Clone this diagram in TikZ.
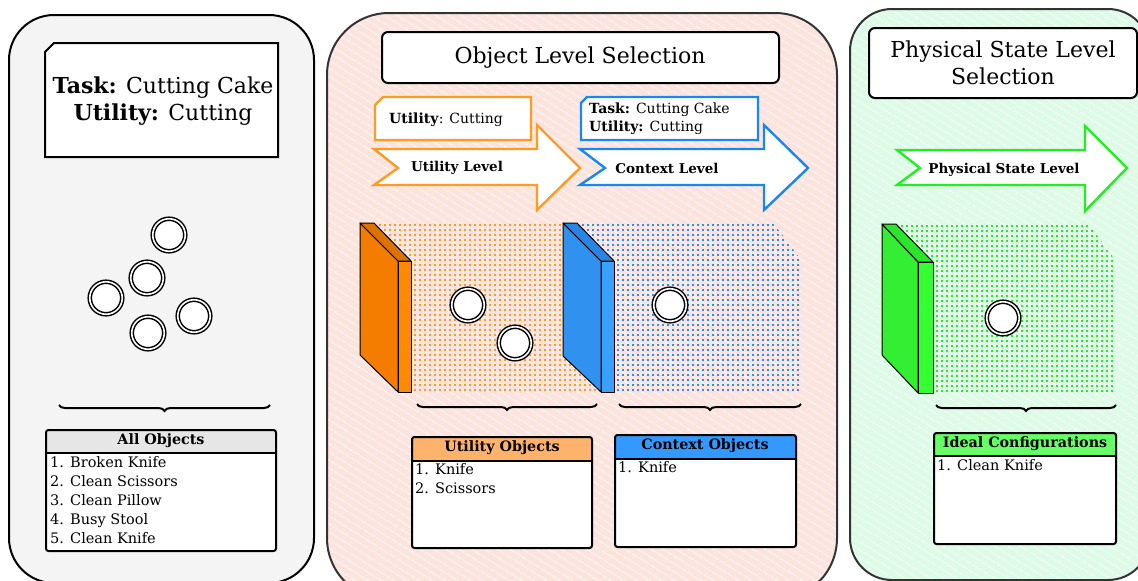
\documentclass[tikz,border=0pt]{standalone}
\usepackage{fontspec}
\setmainfont{DejaVu Serif}
\usetikzlibrary{patterns.meta,decorations.pathreplacing}

\definecolor{panelgray}{HTML}{F4F4F4}
\definecolor{panelpink}{HTML}{FCE4DE}
\definecolor{panelgreen}{HTML}{DDFBE6}
\definecolor{panelline}{HTML}{333333}
\definecolor{utilorange}{HTML}{FF9A22}
\definecolor{ctxblue}{HTML}{1A86F2}
\definecolor{stategreen}{HTML}{22EE22}
\definecolor{slabOtop}{HTML}{DE7200}
\definecolor{slabOside}{HTML}{F47D00}
\definecolor{slabOfront}{HTML}{FF8A00}
\definecolor{slabBtop}{HTML}{2A84E4}
\definecolor{slabBside}{HTML}{3092EE}
\definecolor{slabBfront}{HTML}{3A9FFF}
\definecolor{slabGtop}{HTML}{2CE42C}
\definecolor{slabGside}{HTML}{33EE33}
\definecolor{slabGfront}{HTML}{33FF33}
\definecolor{dotorange}{HTML}{FF9A2A}
\definecolor{dotblue}{HTML}{2A8CFF}
\definecolor{dotgreen}{HTML}{22EE22}
\definecolor{headgray}{HTML}{E6E6E6}
\definecolor{headorange}{HTML}{FFB26B}
\definecolor{headblue}{HTML}{3399FF}
\definecolor{headgreen}{HTML}{66FF66}

\newcommand\fs[2]{\fontsize{#1}{#2}\selectfont}
% grid of small square dots: colour, x-from, x-to, y-from, y-to
\newcommand\dotgrid[5]{%
  \foreach \dx in {#2,\the\numexpr#2+5\relax,...,#3}{%
    \foreach \dy in {#4,\the\numexpr#4+5\relax,...,#5}{%
      \fill[#1] (\dx-1.3,\dy-1.3) rectangle ++(2.6,2.6);}}}

\tikzset{
  panelborder/.style={draw=panelline, line width=2pt},
  hatch/.style={pattern={Lines[angle=-32,distance=6.5pt,line width=1.4pt]}, pattern color=white, fill opacity=0.65},
  titlebox/.style={draw=black, line width=2pt, fill=white, rounded corners=6pt},
  notebox/.style={line width=2.4pt, fill=white, line join=miter},
  levelarrow/.style={line width=2.4pt, fill=white, line join=miter},
  objcircle/.style={circle, draw=black, line width=1.5pt, double=white, double distance=1.6pt, fill=white, minimum size=32.5pt, inner sep=0pt},
  slabface/.style={draw=black, line width=1pt, line join=round},
  tableframe/.style={draw=black, line width=2pt, rounded corners=2.5pt},
  headtext/.style={font=\fs{14.3}{17}\bfseries},
  itemtext/.style={font=\fs{14.5}{19}, anchor=north west, align=left, inner sep=0pt},
  groupbrace/.style={decorate, decoration={brace, amplitude=6pt, mirror}, line width=2pt},
  arrowtext/.style={font=\fs{13.5}{16}\bfseries},
  notetext/.style={font=\fs{14}{18}, anchor=west, align=left, inner sep=0pt},
}

\begin{document}
\begin{tikzpicture}[x=1pt,y=-1pt]
\useasboundingbox (0,0) rectangle (1138,581);
\clip (0,0) rectangle (1138,581);
\fill[white] (0,0) rectangle (1138,581);

% ---------- left panel: the task and every object ----------
\filldraw[fill=panelgray, draw=black, line width=2pt, rounded corners=45pt]
  (9,15) rectangle (314,583);

\draw[fill=white, line width=2pt, line join=miter]
  (45,52) -- (54,43) -- (278,43) -- (278,157) -- (45,157) -- cycle;
\node[font=\fs{22}{27}, align=center] (task) at (163,101)
  {\textbf{Task:} Cutting Cake\\\textbf{Utility:} Cutting};

\node[objcircle] (o1) at (169,235) {};
\node[objcircle] (o2) at (147,278) {};
\node[objcircle] (o3) at (106,298) {};
\node[objcircle] (o4) at (194,316) {};
\node[objcircle] (o5) at (148,333) {};

\coordinate (allL) at (59,405);
\coordinate (allR) at (270,405);
\draw[groupbrace] (allL) -- (allR);

\fill[headgray, rounded corners=2.5pt] (46,430) rectangle (276,453);
\fill[white] (46,453) rectangle (276,551);
\draw[tableframe] (46,430) rectangle (276,551);
\draw[line width=2pt] (46,453) -- (276,453);
\node[headtext] (allhead) at (161,441) {All Objects};
\node[itemtext] (allitems) at (50,456)
  {1. Broken Knife\\2. Clean Scissors\\3. Clean Pillow\\4. Busy Stool\\5. Clean Knife};

% ---------- middle panel: object level selection ----------
\fill[panelpink, rounded corners=62pt] (327,13) rectangle (837,600);
\fill[hatch, rounded corners=62pt] (327,13) rectangle (837,600);
\draw[panelborder, rounded corners=62pt] (327,13) rectangle (837,600);

\draw[titlebox] (382,32) rectangle (779,83);
\node[font=\fs{22}{27}] (objtitle) at (580,58) {Object Level Selection};

% utility note and arrow
\draw[notebox, draw=utilorange]
  (375,105) -- (383,97) -- (531,97) -- (531,140) -- (375,140) -- cycle;
\node[notetext] (utilnote) at (389,120) {\textbf{Utility}: Cutting};
\draw[levelarrow, draw=utilorange]
  (374,149) -- (537,149) -- (537,125) -- (580,168) -- (537,210) -- (537,185)
  -- (374,185) -- (398,168) -- cycle;
\node[arrowtext] (utillevel) at (457,168) {Utility Level};

% context note and arrow
\draw[notebox, draw=ctxblue]
  (581,103) -- (587,97) -- (758,97) -- (758,140) -- (581,140) -- cycle;
\node[notetext] (ctxnote) at (589,119)
  {\textbf{Task:} Cutting Cake\\\textbf{Utility:} Cutting};
\draw[levelarrow, draw=ctxblue]
  (580,149) -- (764,149) -- (764,125) -- (808,168) -- (764,210) -- (764,185)
  -- (580,185) -- (605,168) -- cycle;
\node[arrowtext] (ctxlevel) at (667,168) {Context Level};

% utility filter volume
\begin{scope}
  \clip (374,222) -- (572,222) -- (601,261) -- (601,393) -- (411,393) -- cycle;
  \dotgrid{dotorange}{375}{600}{225}{392}
\end{scope}
\filldraw[slabface, fill=slabOside] (360,223) -- (398,261) -- (398,392) -- (360,355) -- cycle;
\filldraw[slabface, fill=slabOtop] (360,223) -- (374,223) -- (411,261) -- (398,261) -- cycle;
\filldraw[slabface, fill=slabOfront] (398,261) rectangle (411,392);
\node[objcircle] (u1) at (468,305) {};
\node[objcircle] (u2) at (515,343) {};

% context filter volume
\begin{scope}
  \clip (577,222) -- (773,222) -- (801,260) -- (801,393) -- (614,393) -- cycle;
  \dotgrid{dotblue}{578}{800}{225}{392}
\end{scope}
\filldraw[slabface, fill=slabBside] (563,223) -- (601,261) -- (601,392) -- (563,356) -- cycle;
\filldraw[slabface, fill=slabBtop] (563,223) -- (577,223) -- (614,261) -- (601,261) -- cycle;
\filldraw[slabface, fill=slabBfront] (601,261) rectangle (614,392);
\node[objcircle] (c1) at (670,305) {};

\coordinate (utilL) at (417,404);
\coordinate (utilR) at (597,404);
\draw[groupbrace] (utilL) -- (utilR);
\coordinate (ctxL) at (619,404);
\coordinate (ctxR) at (801,404);
\draw[groupbrace] (ctxL) -- (ctxR);

% utility objects table
\fill[headorange, rounded corners=2.5pt] (412,437) rectangle (592,461);
\fill[white] (412,461) rectangle (592,548);
\draw[tableframe] (412,437) rectangle (592,548);
\draw[line width=2pt] (412,461) -- (592,461);
\node[headtext] (utilhead) at (502,448) {Utility Objects};
\node[itemtext] (utilitems) at (415,463) {1. Knife\\2. Scissors};

% context objects table
\fill[headblue, rounded corners=2.5pt] (615,435) rectangle (796,459);
\fill[white] (615,459) rectangle (796,547);
\draw[tableframe] (615,435) rectangle (796,547);
\draw[line width=2pt] (615,459) -- (796,459);
\node[headtext] (ctxhead) at (705,446) {Context Objects};
\node[itemtext] (ctxitems) at (618,461) {1. Knife};

% ---------- right panel: physical state level selection ----------
\fill[panelgreen, rounded corners=42pt] (850,9) rectangle (1150,580);
\fill[hatch, rounded corners=42pt] (850,9) rectangle (1150,580);
\draw[panelborder, rounded corners=42pt] (850,9) rectangle (1150,580);

\draw[titlebox] (869,28) rectangle (1137,98);
\node[font=\fs{22}{27}, align=center] (statetitle) at (1003,63)
  {Physical State Level\\Selection};

\draw[levelarrow, draw=stategreen]
  (897,150) -- (1085,150) -- (1085,126) -- (1127,168) -- (1085,211) -- (1085,185)
  -- (897,185) -- (920,168) -- cycle;
\node[arrowtext] (statelevel) at (1004,170) {Physical State Level};

\begin{scope}
  \clip (896,223) -- (1088,223) -- (1116,261) -- (1116,394) -- (933,394) -- cycle;
  \dotgrid{dotgreen}{897}{1115}{226}{393}
\end{scope}
\filldraw[slabface, fill=slabGside] (882,224) -- (918,262) -- (918,393) -- (882,355) -- cycle;
\filldraw[slabface, fill=slabGtop] (882,224) -- (896,224) -- (933,262) -- (918,262) -- cycle;
\filldraw[slabface, fill=slabGfront] (918,262) rectangle (933,393);
\node[objcircle] (s1) at (1003,318) {};

\coordinate (stateL) at (936,405);
\coordinate (stateR) at (1116,405);
\draw[groupbrace] (stateL) -- (stateR);

% ideal configurations table
\fill[headgreen, rounded corners=2.5pt] (934,433) rectangle (1116,456);
\fill[white] (934,456) rectangle (1116,544);
\draw[tableframe] (934,433) rectangle (1116,544);
\draw[line width=2pt] (934,456) -- (1116,456);
\node[headtext] (statehead) at (1025,444) {Ideal Configurations};
\node[itemtext] (stateitems) at (937,459) {1. Clean Knife};
\end{tikzpicture}
\end{document}
